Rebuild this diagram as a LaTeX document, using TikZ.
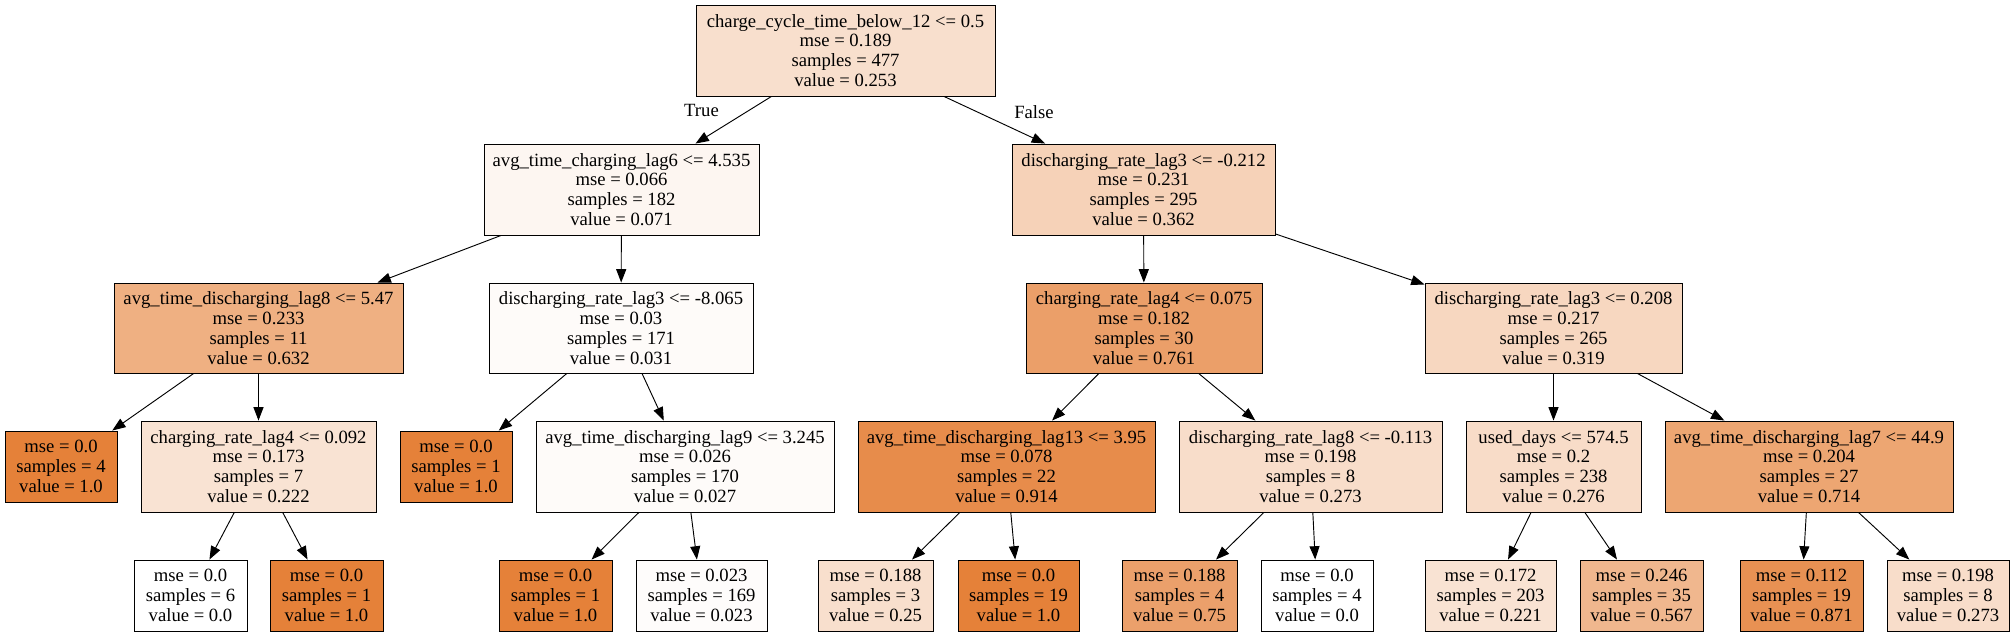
\documentclass[tikz,border=0pt]{standalone}
\usepackage{fontspec}
\setmainfont{Liberation Serif}
\usetikzlibrary{arrows.meta}
\definecolor{sk}{RGB}{229,129,57}
\tikzset{
  nbox/.style 2 args={draw=black, line width=0.7pt, inner sep=0pt, align=center,
    minimum width=#1*0.75pt, minimum height=#2*0.75pt,
    font=\fontsize{14}{14.85}\selectfont},
  edge/.style={draw=black, line width=0.7pt, -{Triangle[length=10pt,width=7.5pt]}},
  elabel/.style={inner sep=0pt, font=\fontsize{14}{14.85}\selectfont}
}
\begin{document}
\begin{tikzpicture}[x=0.75pt,y=-0.75pt]
\useasboundingbox[fill=white] (0,0) rectangle (2015,636);
% level 0
\node[nbox={299}{91}, fill=sk!25!white] (root) at (845.5,50.5) {charge\_cycle\_time\_below\_12 <= 0.5\\mse = 0.189\\samples = 477\\value = 0.253};
% level 1
\node[nbox={275}{91}, fill=sk!7!white] (n1) at (621.5,189.5) {avg\_time\_charging\_lag6 <= 4.535\\mse = 0.066\\samples = 182\\value = 0.071};
\node[nbox={263}{91}, fill=sk!36!white] (n2) at (1143.5,189.5) {discharging\_rate\_lag3 <= -0.212\\mse = 0.231\\samples = 295\\value = 0.362};
% level 2
\node[nbox={289}{90}, fill=sk!63!white] (a) at (258.5,328) {avg\_time\_discharging\_lag8 <= 5.47\\mse = 0.233\\samples = 11\\value = 0.632};
\node[nbox={264}{90}, fill=sk!3!white] (b) at (621,328) {discharging\_rate\_lag3 <= -8.065\\mse = 0.03\\samples = 171\\value = 0.031};
\node[nbox={236}{90}, fill=sk!76!white] (c) at (1144,328) {charging\_rate\_lag4 <= 0.075\\mse = 0.182\\samples = 30\\value = 0.761};
\node[nbox={257}{90}, fill=sk!32!white] (d) at (1553.5,328) {discharging\_rate\_lag3 <= 0.208\\mse = 0.217\\samples = 265\\value = 0.319};
% level 3
\node[nbox={112}{71}, fill=sk!100!white] (e) at (61,466.5) {mse = 0.0\\samples = 4\\value = 1.0};
\node[nbox={235}{91}, fill=sk!22!white] (f) at (258.5,466.5) {charging\_rate\_lag4 <= 0.092\\mse = 0.173\\samples = 7\\value = 0.222};
\node[nbox={112}{71}, fill=sk!100!white] (g) at (456,466.5) {mse = 0.0\\samples = 1\\value = 1.0};
\node[nbox={298}{91}, fill=sk!3!white] (j) at (685,466.5) {avg\_time\_discharging\_lag9 <= 3.245\\mse = 0.026\\samples = 170\\value = 0.027};
\node[nbox={297}{91}, fill=sk!91!white] (k) at (1006.5,466.5) {avg\_time\_discharging\_lag13 <= 3.95\\mse = 0.078\\samples = 22\\value = 0.914};
\node[nbox={263}{91}, fill=sk!27!white] (p) at (1310.5,466.5) {discharging\_rate\_lag8 <= -0.113\\mse = 0.198\\samples = 8\\value = 0.273};
\node[nbox={175}{91}, fill=sk!28!white] (q) at (1553.5,466.5) {used\_days <= 574.5\\mse = 0.2\\samples = 238\\value = 0.276};
\node[nbox={288}{91}, fill=sk!71!white] (u) at (1809,466.5) {avg\_time\_discharging\_lag7 <= 44.9\\mse = 0.204\\samples = 27\\value = 0.714};
% level 4
\node[nbox={113}{71}, fill=white] (h) at (190.5,595.5) {mse = 0.0\\samples = 6\\value = 0.0};
\node[nbox={113}{71}, fill=sk!100!white] (i) at (326.5,595.5) {mse = 0.0\\samples = 1\\value = 1.0};
\node[nbox={113}{71}, fill=sk!100!white] (l) at (555.5,595.5) {mse = 0.0\\samples = 1\\value = 1.0};
\node[nbox={131}{71}, fill=sk!2!white] (m) at (701.5,595.5) {mse = 0.023\\samples = 169\\value = 0.023};
\node[nbox={115}{71}, fill=sk!25!white] (n) at (875.5,595.5) {mse = 0.188\\samples = 3\\value = 0.25};
\node[nbox={121}{71}, fill=sk!100!white] (o) at (1018.5,595.5) {mse = 0.0\\samples = 19\\value = 1.0};
\node[nbox={115}{71}, fill=sk!75!white] (r) at (1179.5,595.5) {mse = 0.188\\samples = 4\\value = 0.75};
\node[nbox={112}{71}, fill=white] (s) at (1317,595.5) {mse = 0.0\\samples = 4\\value = 0.0};
\node[nbox={131}{71}, fill=sk!22!white] (t) at (1490.5,595.5) {mse = 0.172\\samples = 203\\value = 0.221};
\node[nbox={123}{71}, fill=sk!57!white] (v) at (1641.5,595.5) {mse = 0.246\\samples = 35\\value = 0.567};
\node[nbox={123}{71}, fill=sk!87!white] (w) at (1801.5,595.5) {mse = 0.112\\samples = 19\\value = 0.871};
\node[nbox={122}{71}, fill=sk!27!white] (x) at (1948,595.5) {mse = 0.198\\samples = 8\\value = 0.273};
% edge labels
\node[elabel] (lt) at (701.5,110) {True};
\node[elabel] (lf) at (1034,112) {False};
% edges
\draw[edge] (root) -- (n1);
\draw[edge] (root) -- (n2);
\draw[edge] (n1) -- (a);
\draw[edge] (n1) -- (b);
\draw[edge] (n2) -- (c);
\draw[edge] (n2) -- (d);
\draw[edge] (a) -- (e);
\draw[edge] (a) -- (f);
\draw[edge] (b) -- (g);
\draw[edge] (b) -- (j);
\draw[edge] (f) -- (h);
\draw[edge] (f) -- (i);
\draw[edge] (j) -- (l);
\draw[edge] (j) -- (m);
\draw[edge] (c) -- (k);
\draw[edge] (c) -- (p);
\draw[edge] (k) -- (n);
\draw[edge] (k) -- (o);
\draw[edge] (p) -- (r);
\draw[edge] (p) -- (s);
\draw[edge] (d) -- (q);
\draw[edge] (d) -- (u);
\draw[edge] (q) -- (t);
\draw[edge] (q) -- (v);
\draw[edge] (u) -- (w);
\draw[edge] (u) -- (x);
\end{tikzpicture}
\end{document}
